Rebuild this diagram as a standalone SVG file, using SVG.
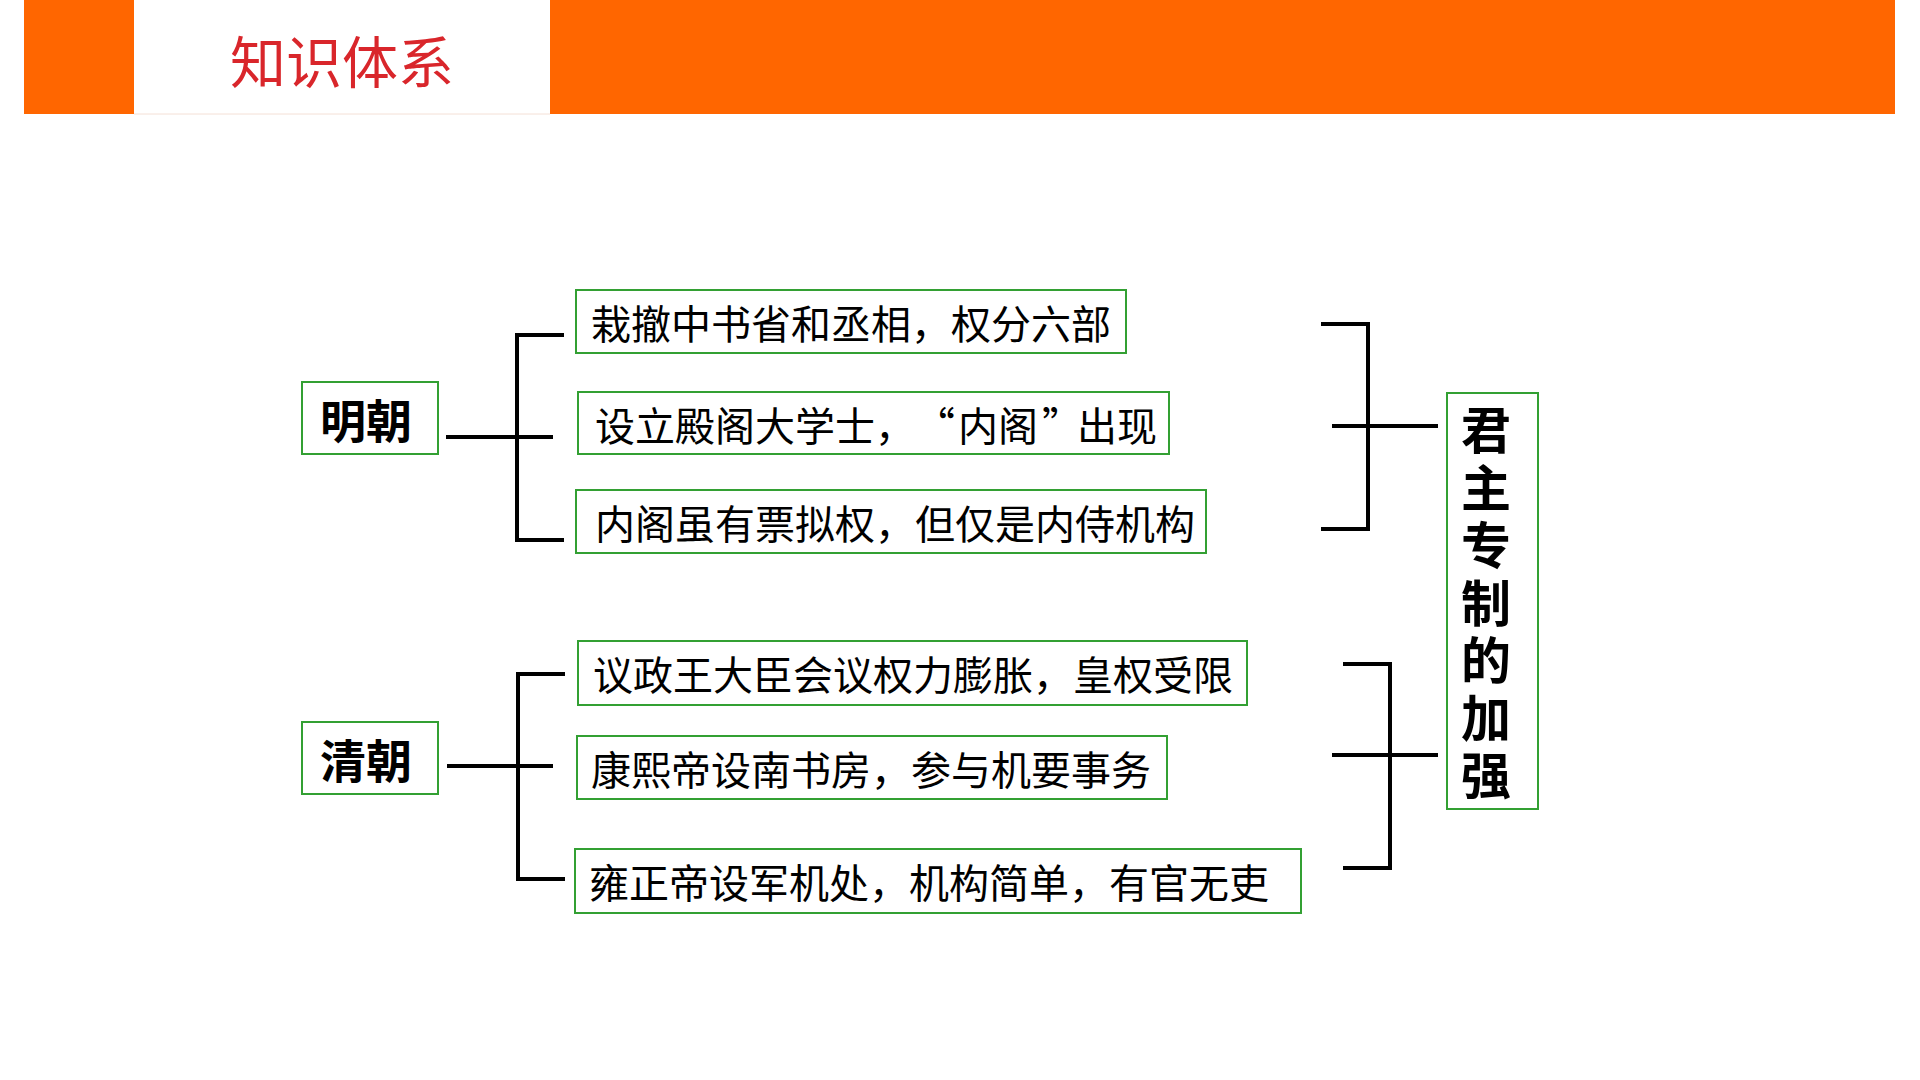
<svg xmlns="http://www.w3.org/2000/svg" width="1920" height="1080" viewBox="0 0 1920 1080">
<style>
.box{fill:#fff;stroke:#33a033;stroke-width:2}
.t{font-family:"Noto Sans CJK SC","Noto Sans CJK JP",sans-serif;font-size:40px;fill:#000;dominant-baseline:central}
.h{font-family:"Noto Sans CJK SC","Noto Sans CJK JP",sans-serif;font-size:46px;font-weight:bold;fill:#000;text-anchor:middle;dominant-baseline:central}
.v{font-family:"Noto Sans CJK SC","Noto Sans CJK JP",sans-serif;font-size:50px;font-weight:bold;fill:#000;writing-mode:vertical-rl;letter-spacing:7.5px}
.ln{fill:none;stroke:#000;stroke-width:4}
</style>
<rect width="1920" height="1080" fill="#fff"/>
<g id="header">
<rect x="24" y="0" width="1871" height="114" fill="#ff6600"/>
<rect x="134" y="0" width="416" height="114" fill="#fff"/>
<line x1="134" y1="114" x2="550" y2="114" stroke="#f4e0d6" stroke-width="1"/>
<text x="342" y="58" font-family="Noto Sans CJK SC, sans-serif" font-size="56" fill="#d9262b" text-anchor="middle" dominant-baseline="central">知识体系</text>
</g>
<g id="connectors">
<path class="ln" d="M446 437H553M517 333V542M515 335H564M515 540H564"/>
<path class="ln" d="M447 766H553M518 673V881M516 674H565M516 879H565"/>
<path class="ln" d="M1321 324H1368V529H1321M1332 426H1438"/>
<path class="ln" d="M1343 664H1390V868H1343M1332 755H1438"/>
</g>
<g id="ming"><rect class="box" x="302" y="382" width="136" height="72"/><text class="h" x="366" y="418">明朝</text></g>
<g id="qing"><rect class="box" x="302" y="722" width="136" height="72"/><text class="h" x="366" y="758">清朝</text></g>
<g id="m1"><rect class="box" x="576" y="290" width="550" height="63"/><text class="t" x="591" y="322">栽撤中书省和丞相，权分六部</text></g>
<g id="m2"><rect class="box" x="578" y="392" width="591" height="62"/><text class="t" x="595 635 675 715 755 795 835 875 915 958 998 1042 1077 1117" y="424">设立殿阁大学士，“内阁”出现</text></g>
<g id="m3"><rect class="box" x="576" y="490" width="630" height="63"/><text class="t" x="595" y="522">内阁虽有票拟权，但仅是内侍机构</text></g>
<g id="q1"><rect class="box" x="578" y="641" width="669" height="64"/><text class="t" x="593" y="673">议政王大臣会议权力膨胀，皇权受限</text></g>
<g id="q2"><rect class="box" x="577" y="736" width="590" height="63"/><text class="t" x="591" y="768">康熙帝设南书房，参与机要事务</text></g>
<g id="q3"><rect class="box" x="575" y="849" width="726" height="64"/><text class="t" x="589" y="881">雍正帝设军机处，机构简单，有官无吏</text></g>
<g id="result"><rect class="box" x="1447" y="393" width="91" height="416"/>
<text class="v" x="1486" y="405">君主专制的加强</text>
</g>
</svg>
